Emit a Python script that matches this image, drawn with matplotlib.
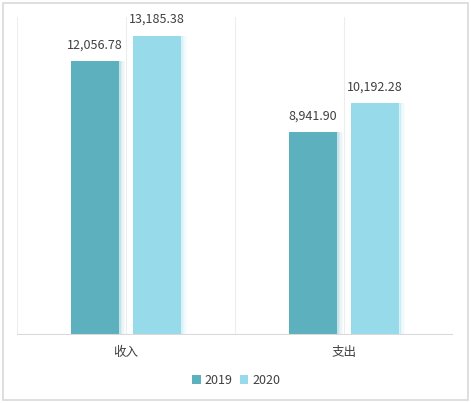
import numpy as np
import matplotlib.pyplot as plt
from matplotlib.patches import Rectangle

plt.rcParams['font.family'] = ['Noto Sans CJK SC', 'DejaVu Sans']

# 数据
categories = ['收入', '支出']
series_names = ['2019', '2020']
values_2019 = [12056.78, 8941.90]
values_2020 = [13185.38, 10192.28]
colors = ['#5DB0BE', '#97DBEB']

W, H = 471, 403
fig = plt.figure(figsize=(W / 100, H / 100), dpi=100)

# 外边框
fig.patches.append(Rectangle((3 / W, 3 / H), 465 / W, 397 / H, transform=fig.transFigure,
                             fill=False, edgecolor='#D9D9D9', linewidth=1.2))

# 绘图区：x 17..453, y 17..335 (像素，自上而下)
ax = fig.add_axes([17 / W, (H - 335) / H, 436 / W, 318 / H])
ax.set_xlim(-0.5, 1.5)
ax.set_ylim(0, 14000)

x = np.arange(len(categories))
bar_w = 48 / 218
offset = 31 / 218

for xv in [-0.5, 0, 0.5, 1, 1.5]:
    ax.axvline(xv, color='#EDEDED', linewidth=0.8, zorder=0)

for i, (vals, c) in enumerate(zip([values_2019, values_2020], colors)):
    pos = x + (offset if i else -offset)
    # 右侧淡阴影
    for k, a in enumerate([0.35, 0.22, 0.12, 0.05]):
        ax.bar(pos + bar_w / 2 + (k + 0.5) * 1.5 / 218, vals, width=1.5 / 218,
               color=c, alpha=a, linewidth=0, zorder=1)
    ax.bar(pos, vals, width=bar_w, color=c, linewidth=0, zorder=2, label=series_names[i])
    for xp, v in zip(pos, vals):
        ax.annotate(f'{v:,.2f}', (xp, v), xytext=(0, 7), textcoords='offset points',
                    ha='center', va='bottom', fontsize=9, color='#404040')

ax.axhline(0, color='#D9D9D9', linewidth=1.5, zorder=3)
for s in ax.spines.values():
    s.set_visible(False)
ax.set_yticks([])
ax.set_xticks(x)
ax.set_xticklabels(categories, fontsize=9, color='#404040')
ax.tick_params(axis='x', length=0, pad=8)

handles, labels = ax.get_legend_handles_labels()
fig.legend(handles[-2:], labels[-2:], loc='center', bbox_to_anchor=(236 / W, 1 - 380 / H),
           ncol=2, frameon=False, fontsize=9, handlelength=0.7, handleheight=0.7,
           handletextpad=0.3, columnspacing=0.6, labelcolor='#404040')

fig.savefig('out.png', dpi=100)
